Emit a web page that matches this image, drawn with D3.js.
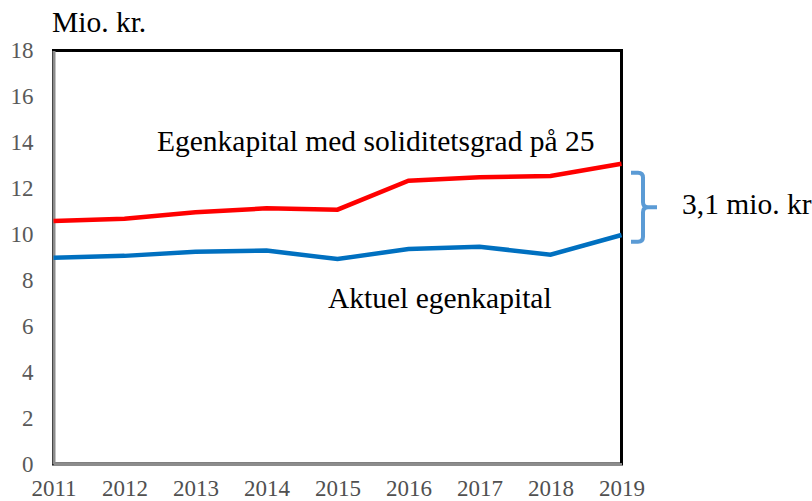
<!DOCTYPE html>
<html>
<head>
<meta charset="utf-8">
<script src="https://cdn.jsdelivr.net/npm/d3@7"></script>
<style>
  html, body { margin: 0; padding: 0; background: #fff; }
  svg { display: block; }
  svg text { font-family: "Liberation Serif", "Times New Roman", serif; }
</style>
</head>
<body>
<svg id="chart" width="812" height="501"></svg>
<script>
// Equity (mio. kr.) 2011-2019
const years = [2011, 2012, 2013, 2014, 2015, 2016, 2017, 2018, 2019];
const equitySolidity25 = [10.58, 10.68, 10.96, 11.13, 11.07, 12.33, 12.48, 12.54, 13.07];
const equityActual = [8.98, 9.06, 9.24, 9.29, 8.92, 9.36, 9.46, 9.11, 9.97];
const yTicks = [0, 2, 4, 6, 8, 10, 12, 14, 16, 18];
const unitLabel = "Mio. kr.";
const seriesLabels = ["Egenkapital med soliditetsgrad på 25", "Aktuel egenkapital"];
const gapLabel = "3,1 mio. kr";
// brace spans the gap between the two series in the last year
const braceRange = [12.68, 9.68];

const serif = "'Liberation Serif', 'Times New Roman', serif";
const svg = d3.select("#chart");
const plotLeft = 53.5, plotRight = 621.5, plotTop = 50.5, plotBottom = 464;

const x = d3.scalePoint().domain(years).range([plotLeft, plotRight]);
const y = d3.scaleLinear().domain([0, 18]).range([plotBottom, plotTop]);

// plot frame
svg.append("rect")
  .attr("x", plotLeft).attr("y", plotTop)
  .attr("width", plotRight - plotLeft).attr("height", plotBottom - plotTop)
  .attr("fill", "none").attr("stroke", "#000").attr("stroke-width", 3);

// y axis
const yAxis = svg.append("g")
  .attr("transform", `translate(${plotLeft},0)`)
  .call(d3.axisLeft(y).tickValues(yTicks).tickSize(0).tickPadding(20));
yAxis.select(".domain").attr("stroke", "#8c8c8c").attr("stroke-width", 3);
yAxis.selectAll("text")
  .style("font-family", serif)
  .style("font-size", "23px").attr("fill", "#595959");

// x axis
const xAxis = svg.append("g")
  .attr("transform", `translate(0,${plotBottom})`)
  .call(d3.axisBottom(x).tickSize(0));
xAxis.select(".domain").attr("stroke", "#8c8c8c").attr("stroke-width", 3);
xAxis.selectAll("text")
  .style("font-family", serif)
  .style("font-size", "23px").attr("fill", "#505050")
  .attr("y", 32).attr("dy", null);

// lines
const line = d3.line().x((d, i) => x(years[i])).y(d => y(d));
svg.append("path").datum(equitySolidity25)
  .attr("d", line).attr("fill", "none")
  .attr("stroke", "#ff0000").attr("stroke-width", 4.5);
svg.append("path").datum(equityActual)
  .attr("d", line).attr("fill", "none")
  .attr("stroke", "#0070c0").attr("stroke-width", 4.5);

function label(txt, px, py) {
  svg.append("text").attr("x", px).attr("y", py)
    .style("font-family", serif).style("font-size", "29.5px")
    .attr("fill", "#000").text(txt);
}

// unit label
label(unitLabel, 52, 32);

// series labels
label(seriesLabels[0], 157, 150.5);
label(seriesLabels[1], 328, 307.5);

// curly brace
const bTop = y(braceRange[0]), bBot = y(braceRange[1]), bMid = (bTop + bBot) / 2;
const bx0 = 631, bx1 = 643, bTip = 657, r = 5;
const brace = d3.path();
brace.moveTo(bx0, bTop);
brace.lineTo(bx1 - r, bTop);
brace.quadraticCurveTo(bx1, bTop, bx1, bTop + r);
brace.lineTo(bx1, bMid - r);
brace.quadraticCurveTo(bx1, bMid, bx1 + r, bMid);
brace.lineTo(bTip, bMid);
brace.moveTo(bx1 + r, bMid);
brace.quadraticCurveTo(bx1, bMid, bx1, bMid + r);
brace.lineTo(bx1, bBot - r);
brace.quadraticCurveTo(bx1, bBot, bx1 - r, bBot);
brace.lineTo(bx0, bBot);
svg.append("path").attr("d", brace.toString())
  .attr("fill", "none").attr("stroke", "#5b9bd5").attr("stroke-width", 4);

label(gapLabel, 682, 214);
</script>
</body>
</html>
